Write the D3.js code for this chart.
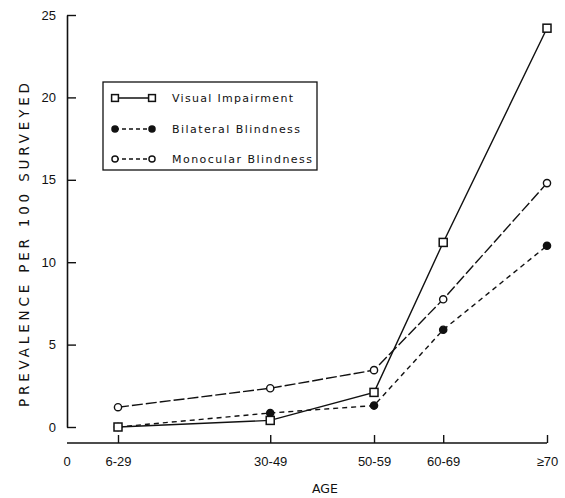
<!DOCTYPE html>
<html>
<head>
<meta charset="utf-8">
<script src="https://cdn.jsdelivr.net/npm/d3@7"></script>
<style>
  body { margin: 0; background: #fff; }
  text { font-family: "Liberation Sans", Arial, sans-serif; fill: #111; }
  .wide { font-family: "DejaVu Sans", sans-serif; }
</style>
</head>
<body>
<div id="chart"></div>
<script>
// age groups, placed at their mid ages
var ageGroups = ["6-29", "30-49", "50-59", "60-69", "\u226570"]
var ageMid = [17.5, 39.5, 54.5, 64.5, 79.5]

var visualImpairment = [0.0, 0.4, 2.1, 11.2, 24.2]
var bilateralBlindness = [0.0, 0.85, 1.3, 5.9, 11.0]
var monocularBlindness = [1.2, 2.35, 3.45, 7.75, 14.8]

var yTicks = [0, 5, 10, 15, 20, 25]

var series = [
  { name: "Visual Impairment", values: visualImpairment, dash: null, marker: "square", fill: "#fff" },
  { name: "Bilateral Blindness", values: bilateralBlindness, dash: "5,4", marker: "circle", fill: "#111" },
  { name: "Monocular Blindness", values: monocularBlindness, dash: "11,3", marker: "circle", fill: "#fff" }
]

var width = 565, height = 498

var svg = d3.select("#chart")
  .append("svg")
    .attr("width", width)
    .attr("height", height)

var x = d3.scaleLinear()
  .domain([17.5, 79.5])
  .range([118, 547])

var y = d3.scaleLinear()
  .domain([0, 25])
  .range([427, 15])

var axisX0 = 67, axisY = 443

// Y axis (inward ticks)
var yAxis = svg.append("g")
  .attr("transform", "translate(" + axisX0 + ",0)")
  .call(d3.axisRight(y).tickValues(yTicks).tickSize(9).tickSizeOuter(0).tickFormat(d3.format("d")))
yAxis.select(".domain").attr("stroke", "#111").attr("stroke-width", 1.6)
yAxis.selectAll(".tick line").attr("stroke", "#111").attr("stroke-width", 1.4)
yAxis.selectAll(".tick text")
  .attr("x", -11)
  .attr("text-anchor", "end")
  .style("font-size", "13px")
  .style("font-family", "'Liberation Sans', Arial, sans-serif")

// X axis (inward ticks)
var xAxis = svg.append("g")
  .attr("transform", "translate(0," + axisY + ")")
  .call(d3.axisTop(x).tickValues(ageMid).tickSize(8).tickSizeOuter(0).tickFormat((d, i) => ageGroups[i]))
xAxis.select(".domain").attr("d", "M" + axisX0 + ",0H" + x(79.5)).attr("stroke", "#111").attr("stroke-width", 1.6)
xAxis.selectAll(".tick line").attr("stroke", "#111").attr("stroke-width", 1.4)
xAxis.selectAll(".tick text")
  .attr("y", 23)
  .style("font-size", "13px")
  .style("font-family", "'Liberation Sans', Arial, sans-serif")

// origin label
svg.append("text")
  .attr("x", axisX0)
  .attr("y", axisY + 23)
  .attr("text-anchor", "middle")
  .style("font-size", "13px")
  .text("0")

// axis titles
svg.append("text")
  .attr("class", "wide")
  .attr("x", 325)
  .attr("y", 493)
  .attr("text-anchor", "middle")
  .style("font-size", "12.5px")
  .text("AGE")

svg.append("text")
  .attr("class", "wide")
  .attr("transform", "translate(29,245) rotate(-90)")
  .attr("text-anchor", "middle")
  .style("font-size", "13.5px")
  .attr("textLength", 324)
  .attr("lengthAdjust", "spacing")
  .text("PREVALENCE PER 100 SURVEYED")

function drawMarker(g, s, cx, cy, size) {
  size = size || 1
  if (s.marker == "square") {
    g.append("rect")
      .attr("x", cx - 4 * size).attr("y", cy - 4 * size)
      .attr("width", 8 * size).attr("height", 8 * size)
      .attr("fill", s.fill).attr("stroke", "#111").attr("stroke-width", 1.5)
  } else {
    g.append("circle")
      .attr("cx", cx).attr("cy", cy).attr("r", 3.6 * size)
      .attr("fill", s.fill).attr("stroke", "#111").attr("stroke-width", 1.4)
  }
}

var line = d3.line()
  .x((d, i) => x(ageMid[i]))
  .y(d => y(d))

// draw monocular first, then bilateral, then visual on top
series.slice().reverse().forEach(s => {
  svg.append("path")
    .datum(s.values)
    .attr("fill", "none")
    .attr("stroke", "#111")
    .attr("stroke-width", 1.4)
    .attr("stroke-dasharray", s.dash)
    .attr("d", line)
  var g = svg.append("g")
  s.values.forEach((v, i) => drawMarker(g, s, x(ageMid[i]), y(v)))
})

// legend
var legend = svg.append("g")
legend.append("rect")
  .attr("x", 103).attr("y", 82)
  .attr("width", 214).attr("height", 88)
  .attr("fill", "#fff").attr("stroke", "#111").attr("stroke-width", 1.3)

var legendY = [98, 129, 159]
var legendLen = [121, 128, 140]
series.forEach((s, i) => {
  var ly = legendY[i]
  legend.append("line")
    .attr("x1", 115).attr("x2", 152)
    .attr("y1", ly).attr("y2", ly)
    .attr("stroke", "#111").attr("stroke-width", 1.4)
    .attr("stroke-dasharray", s.dash ? "4,3" : null)
  drawMarker(legend, s, 115, ly, 0.85)
  drawMarker(legend, s, 152, ly, 0.85)
  legend.append("text")
    .attr("class", "wide")
    .attr("x", 172).attr("y", ly + 4)
    .style("font-size", "11px")
    .attr("textLength", legendLen[i])
    .attr("lengthAdjust", "spacing")
    .text(s.name)
})
</script>
</body>
</html>
